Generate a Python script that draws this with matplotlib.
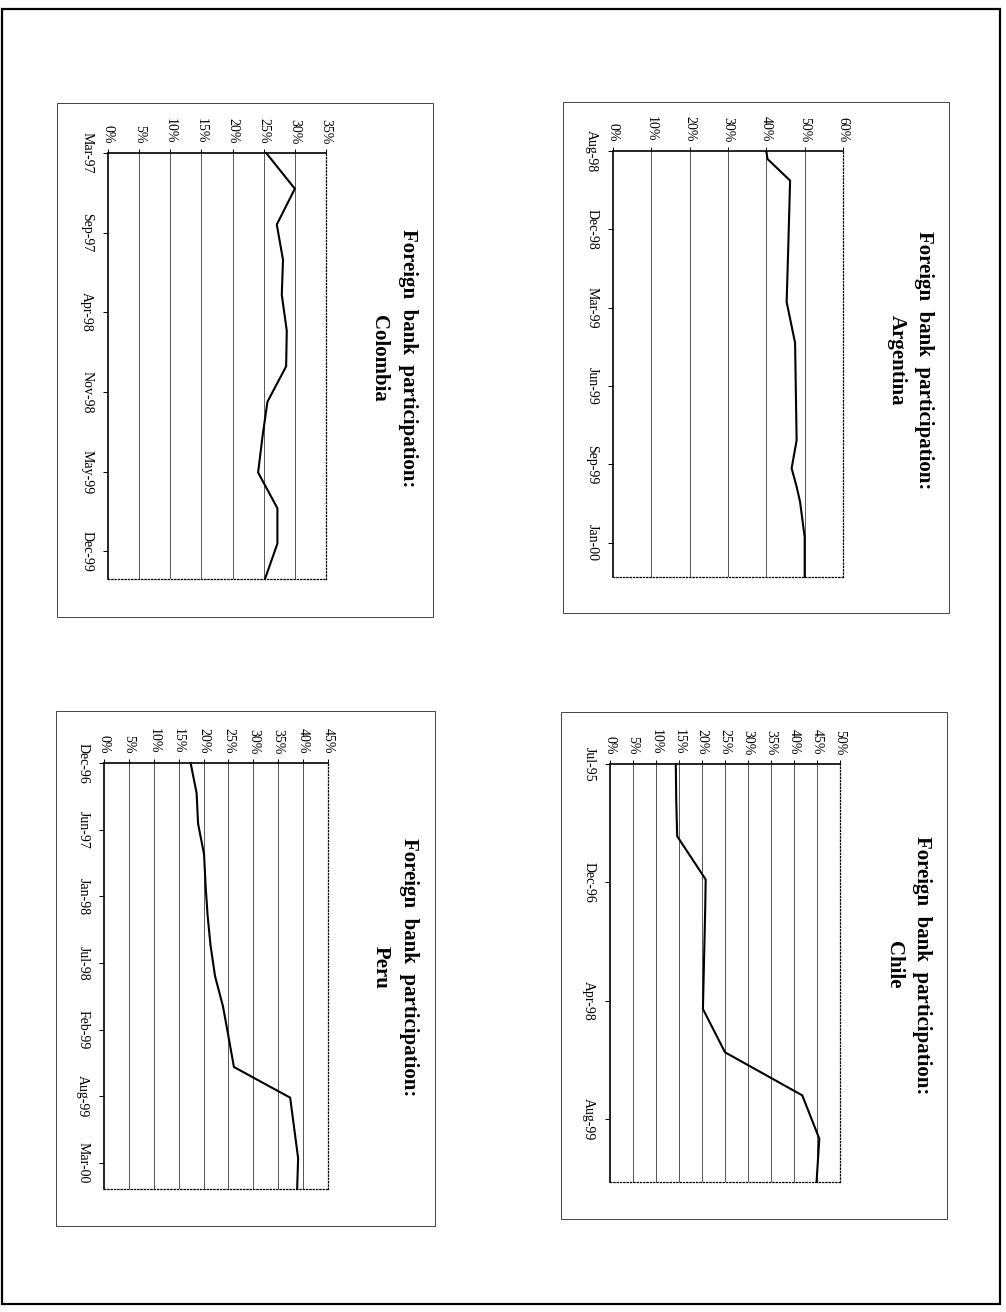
import matplotlib
matplotlib.use("Agg")
import matplotlib.pyplot as plt
import matplotlib.dates as mdates
import numpy as np
import pandas as pd
from matplotlib.patches import Rectangle

plt.rcParams["font.family"] = ["Liberation Serif", "DejaVu Serif"]

# ---- data: share of foreign banks (% of system), by country ----
arg_dates = ["1998-08-31", "1998-09-10", "1998-10-07", "1999-01-02", "1999-03-08",
             "1999-04-28", "1999-08-28", "1999-10-02", "1999-10-25", "1999-11-13",
             "1999-12-27", "2000-02-15"]
arg_values = [40.0, 40.3, 46.2, 45.7, 45.3, 47.5, 47.9, 46.6, 47.9, 48.8, 50.0, 50.0]
arg_tick_labels = ["Aug-98", "Dec-98", "Mar-99", "Jun-99", "Sep-99", "Jan-00"]

col_dates = ["1997-03-01", "1997-06-01", "1997-09-01", "1997-12-01", "1998-03-01",
             "1998-06-01", "1998-09-01", "1998-12-01", "1999-03-01", "1999-06-01",
             "1999-09-01", "1999-12-01", "2000-03-01"]
col_values = [25.4, 30.0, 27.1, 28.1, 27.9, 28.7, 28.6, 25.6, 24.8, 24.1, 27.2, 27.2, 25.2]
col_tick_labels = ["Mar-97", "Sep-97", "Apr-98", "Nov-98", "May-99", "Dec-99"]

chl_dates = ["1995-07-31", "1995-12-31", "1996-05-31", "1996-11-30", "1997-03-31",
             "1998-05-31", "1998-11-30", "1999-05-31", "1999-11-30", "2000-05-31"]
chl_values = [14.3, 14.4, 14.6, 20.8, 20.7, 20.2, 25.0, 41.8, 45.5, 44.9]
chl_tick_labels = ["Jul-95", "Dec-96", "Apr-98", "Aug-99"]

per_dates = ["1996-12-01", "1997-03-01", "1997-06-01", "1997-09-01", "1997-12-01",
             "1998-03-01", "1998-06-01", "1998-09-01", "1998-12-01", "1999-03-01",
             "1999-06-01", "1999-09-01", "1999-12-01", "2000-03-01", "2000-06-01"]
per_values = [17.4, 18.6, 18.9, 20.1, 20.4, 20.8, 21.4, 22.3, 23.9, 25.0, 26.1,
              37.4, 38.2, 39.0, 38.8]
per_tick_labels = ["Dec-96", "Jun-97", "Jan-98", "Jul-98", "Feb-99", "Aug-99", "Mar-00"]

W, H = 1006, 1312
fig = plt.figure(figsize=(W / 100, H / 100), dpi=100)
fig.patch.set_facecolor("white")


def frac(x0, y0, x1, y1):
    return [x0 / W, 1 - y1 / H, (x1 - x0) / W, (y1 - y0) / H]


# page layer in pixel units (frames and titles)
bg = fig.add_axes([0, 0, 1, 1])
bg.set_xlim(0, W)
bg.set_ylim(H, 0)
bg.axis("off")
bg.add_patch(Rectangle((2, 9), 998, 1295, fill=False, lw=1.6, ec="black"))


def panel(frame, plot_box, title_xy, country, dates, values, tick_labels,
          tick_step_days, vmax, vstep):
    fx0, fy0, fx1, fy1 = frame
    bg.add_patch(Rectangle((fx0, fy0), fx1 - fx0, fy1 - fy0, fill=False,
                           lw=0.7, ec="#444444"))
    tx1, tx2, ty = title_xy
    bg.text(tx1, ty, "Foreign  bank  participation:", rotation=-90, ha="center",
            va="center", fontsize=15, fontweight="bold")
    bg.text(tx2, ty, country, rotation=-90, ha="center", va="center",
            fontsize=15, fontweight="bold")

    ax = fig.add_axes(frac(*plot_box))
    t = mdates.date2num(pd.to_datetime(dates))
    ax.plot(values, t, color="black", lw=1.5, clip_on=False, zorder=5)

    ax.set_xlim(0, vmax)
    ax.set_ylim(t[-1], t[0])
    vt = np.arange(0, vmax + vstep / 2, vstep)
    ax.set_xticks(vt)
    ax.set_xticklabels([f"{v:g}%" for v in vt])
    for v in vt[1:-1]:
        ax.axvline(v, color="#3a3a3a", lw=0.6, zorder=1)

    tt = t[0] + tick_step_days * np.arange(len(tick_labels))
    ax.set_yticks(tt)
    ax.set_yticklabels(tick_labels)

    ax.xaxis.tick_top()
    ax.tick_params(axis="x", direction="out", length=3, width=0.7, pad=3.5,
                   labelsize=10, labelrotation=-90)
    ax.tick_params(axis="y", direction="out", length=3.6, width=0.7, pad=7,
                   labelsize=10, labelrotation=-90)
    for lab in ax.get_yticklabels():
        lab.set_va("center")
    for s in ("top", "left"):
        ax.spines[s].set_linewidth(1.2)
    for s in ("right", "bottom"):
        ax.spines[s].set_linestyle(":")
        ax.spines[s].set_linewidth(0.9)
    return ax


panel((563, 102, 949, 613), (613, 151, 843, 577), (924, 897, 360), "Argentina",
      arg_dates, arg_values, arg_tick_labels, 98, 60, 10)
panel((57, 103, 433, 617), (108, 153, 326, 579), (408, 379, 358), "Colombia",
      col_dates, col_values, col_tick_labels, 205, 35, 5)
panel((561, 712, 947, 1219), (610, 764, 840, 1182), (922, 894, 965), "Chile",
      chl_dates, chl_values, chl_tick_labels, 500, 50, 5)
panel((56, 711, 435, 1226), (104, 763, 328, 1189), (409, 381, 967), "Peru",
      per_dates, per_values, per_tick_labels, 200, 45, 5)

fig.savefig("out.png", dpi=100)
